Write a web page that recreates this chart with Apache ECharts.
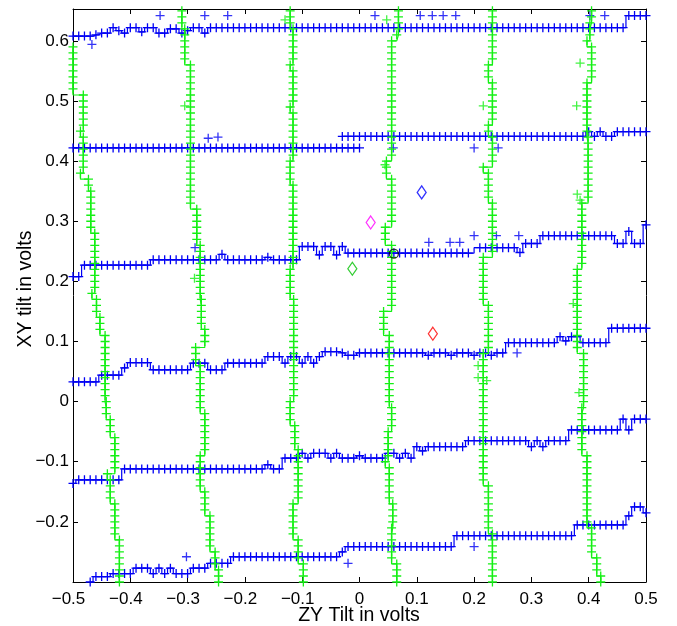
<!DOCTYPE html>
<html>
<head>
<meta charset="utf-8">
<script src="https://cdn.jsdelivr.net/npm/echarts@6/dist/echarts.min.js"></script>
<style>
html,body{margin:0;padding:0;background:#fff;}
#chart{width:677px;height:626px;}
</style>
</head>
<body>
<div id="chart"></div>
<script>
// shared sampling grids
const ROW_X = [-0.50,-0.49,-0.48,-0.47,-0.46,-0.45,-0.44,-0.43,-0.42,-0.41,
-0.40,-0.39,-0.38,-0.37,-0.36,-0.35,-0.34,-0.33,-0.32,-0.31,
-0.30,-0.29,-0.28,-0.27,-0.26,-0.25,-0.24,-0.23,-0.22,-0.21,
-0.20,-0.19,-0.18,-0.17,-0.16,-0.15,-0.14,-0.13,-0.12,-0.11,
-0.10,-0.09,-0.08,-0.07,-0.06,-0.05,-0.04,-0.03,-0.02,-0.01,
0.00,0.01,0.02,0.03,0.04,0.05,0.06,0.07,0.08,0.09,
0.10,0.11,0.12,0.13,0.14,0.15,0.16,0.17,0.18,0.19,
0.20,0.21,0.22,0.23,0.24,0.25,0.26,0.27,0.28,0.29,
0.30,0.31,0.32,0.33,0.34,0.35,0.36,0.37,0.38,0.39,
0.40,0.41,0.42,0.43,0.44,0.45,0.46,0.47,0.48,0.49,
0.50];

const COL_Y = [0.65,0.64,0.63,0.62,0.61,0.60,0.59,0.58,0.57,0.56,
0.55,0.54,0.53,0.52,0.51,0.50,0.49,0.48,0.47,0.46,
0.45,0.44,0.43,0.42,0.41,0.40,0.39,0.38,0.37,0.36,
0.35,0.34,0.33,0.32,0.31,0.30,0.29,0.28,0.27,0.26,
0.25,0.24,0.23,0.22,0.21,0.20,0.19,0.18,0.17,0.16,
0.15,0.14,0.13,0.12,0.11,0.10,0.09,0.08,0.07,0.06,
0.05,0.04,0.03,0.02,0.01,0.00,-0.01,-0.02,-0.03,-0.04,
-0.05,-0.06,-0.07,-0.08,-0.09,-0.10,-0.11,-0.12,-0.13,-0.14,
-0.15,-0.16,-0.17,-0.18,-0.19,-0.20,-0.21,-0.22,-0.23,-0.24,
-0.25,-0.26,-0.27,-0.28,-0.29,-0.30];

// blue rows: XY tilt value at each ROW_X position
const ROW1 = [0.608,0.608,0.608,0.608,0.610,0.613,0.613,0.622,0.617,0.613,
0.622,0.622,0.615,0.622,0.622,0.613,0.613,0.620,0.620,0.613,
0.617,0.622,0.622,0.613,0.622,0.622,0.622,0.622,0.622,0.622,
0.622,0.622,0.622,0.622,0.622,0.622,0.622,0.622,0.622,0.622,
0.622,0.622,0.622,0.622,0.622,0.622,0.622,0.622,0.622,0.622,
0.622,0.622,0.622,0.622,0.622,0.622,0.622,0.622,0.622,0.622,
0.622,0.622,0.622,0.622,0.622,0.622,0.622,0.622,0.622,0.622,
0.622,0.622,0.622,0.622,0.622,0.622,0.622,0.622,0.622,0.622,
0.622,0.622,0.622,0.622,0.622,0.622,0.622,0.622,0.622,0.622,
0.622,0.622,0.622,0.622,0.622,0.622,0.622,0.642,0.642,0.642,
0.642];

const ROW2A = [0.422,0.422,0.422,0.422,0.422,0.422,0.422,0.422,0.422,0.422,
0.422,0.422,0.422,0.422,0.422,0.422,0.422,0.422,0.422,0.422,
0.422,0.422,0.422,0.422,0.422,0.422,0.422,0.422,0.422,0.422,
0.422,0.422,0.422,0.422,0.422,0.422,0.422,0.422,0.422,0.422,
0.422,0.422,0.422,0.422,0.422,0.422,0.422,0.422,0.422,0.422,
0.422,null,null,null,null,null,null,null,null,null,
null,null,null,null,null,null,null,null,null,null,
null,null,null,null,null,null,null,null,null,null,
null,null,null,null,null,null,null,null,null,null,
null,null,null,null,null,null,null,null,null,null,
null];

const ROW2B = [null,null,null,null,null,null,null,null,null,null,
null,null,null,null,null,null,null,null,null,null,
null,null,null,null,null,null,null,null,null,null,
null,null,null,null,null,null,null,null,null,null,
null,null,null,null,null,null,null,0.441,0.441,0.441,
0.441,0.441,0.441,0.441,0.441,0.441,0.441,0.441,0.441,0.441,
0.441,0.441,0.441,0.441,0.441,0.441,0.441,0.441,0.441,0.441,
0.441,0.441,0.441,0.441,0.441,0.441,0.441,0.441,0.441,0.441,
0.441,0.441,0.441,0.441,0.441,0.441,0.441,0.441,0.441,0.441,
0.449,0.441,0.449,0.441,0.441,0.449,0.449,0.449,0.449,0.449,
0.449];

const ROW3 = [0.208,0.208,0.227,0.227,0.227,0.227,0.227,0.227,0.227,0.227,
0.227,0.227,0.227,0.227,0.236,0.236,0.236,0.236,0.236,0.236,
0.236,0.236,0.236,0.236,0.236,0.236,0.245,0.236,0.236,0.236,
0.236,0.236,0.236,0.236,0.240,0.236,0.236,0.236,0.236,0.236,
0.258,0.258,0.258,0.244,0.258,0.258,0.244,0.258,0.247,0.247,
0.247,0.247,0.247,0.247,0.247,0.247,0.247,0.247,0.247,0.247,
0.247,0.247,0.247,0.247,0.247,0.247,0.247,0.247,0.247,0.247,
null,0.256,0.256,0.256,0.256,0.256,0.256,0.256,0.248,0.263,
0.263,0.263,0.276,0.276,0.276,0.276,0.276,0.276,0.276,0.276,
0.276,0.276,0.276,0.276,0.276,0.263,0.263,0.283,0.263,0.263,
0.294];

const ROW4 = [0.033,0.033,0.033,0.033,0.033,0.044,0.044,0.044,0.044,0.056,
0.065,0.065,0.065,0.065,0.053,0.053,0.053,0.053,0.053,0.053,
0.053,0.064,0.064,0.064,0.053,0.053,0.053,0.064,0.064,0.064,
0.064,0.064,0.064,0.064,0.075,0.075,0.075,0.064,0.075,0.075,
0.064,0.075,0.064,0.075,0.083,0.083,0.083,0.081,0.077,0.077,
0.081,0.081,0.081,0.081,0.081,0.081,0.081,0.081,0.081,0.081,
0.081,0.081,0.077,0.081,0.081,0.081,0.077,0.081,0.081,0.081,
0.077,0.081,0.081,0.077,0.081,0.081,0.098,0.098,0.098,0.098,
0.098,0.098,0.098,0.098,0.098,0.108,0.101,0.108,0.108,0.098,
0.098,0.098,0.098,0.098,0.122,0.122,0.122,0.122,0.122,0.122,
0.122];

const ROW5 = [-0.136,-0.130,-0.130,-0.130,-0.130,-0.130,-0.130,-0.130,-0.130,-0.112,
-0.112,-0.112,-0.112,-0.112,-0.112,-0.112,-0.112,-0.112,-0.112,-0.112,
-0.112,-0.112,-0.112,-0.112,-0.112,-0.112,-0.112,-0.112,-0.112,-0.112,
-0.112,-0.112,-0.112,-0.112,-0.105,-0.112,-0.112,-0.094,-0.094,-0.094,
-0.086,-0.094,-0.086,-0.086,-0.086,-0.094,-0.086,-0.094,-0.094,-0.094,
-0.090,-0.094,-0.094,-0.094,-0.094,-0.086,-0.086,-0.094,-0.086,-0.094,
-0.075,-0.082,-0.075,-0.075,-0.075,-0.075,-0.075,-0.075,-0.075,-0.065,
-0.065,-0.065,-0.065,-0.065,-0.065,-0.065,-0.065,-0.065,-0.065,-0.065,
-0.075,-0.065,-0.075,-0.065,-0.065,-0.065,-0.065,-0.047,-0.047,-0.047,
-0.047,-0.047,-0.047,-0.047,-0.047,-0.047,-0.029,-0.047,-0.029,-0.029,
-0.029];

const ROW6 = [null,null,null,-0.300,-0.291,-0.291,-0.291,-0.286,-0.286,-0.286,
-0.286,-0.277,-0.277,-0.277,-0.286,-0.277,-0.286,-0.277,-0.286,-0.286,
-0.286,-0.277,-0.277,-0.277,-0.269,-0.269,-0.269,-0.269,-0.258,-0.258,
-0.258,-0.258,-0.258,-0.258,-0.258,-0.258,-0.258,-0.258,-0.258,-0.258,
-0.258,-0.258,-0.258,-0.258,-0.258,-0.258,-0.258,-0.250,-0.241,-0.241,
-0.241,-0.241,-0.241,-0.241,-0.241,-0.241,-0.241,-0.241,-0.241,-0.241,
-0.241,-0.241,-0.241,-0.241,-0.241,-0.241,-0.241,-0.223,-0.223,-0.223,
-0.223,-0.223,-0.223,-0.223,-0.223,-0.223,-0.223,-0.223,-0.223,-0.223,
-0.223,-0.223,-0.223,-0.223,-0.223,-0.223,-0.223,-0.223,-0.205,-0.205,
-0.205,-0.205,-0.205,-0.205,-0.205,-0.205,-0.205,-0.190,-0.175,-0.175,
-0.185];

// green columns: ZY tilt value at each COL_Y position
const COLA = [null,null,null,null,null,null,-0.500,-0.500,-0.500,-0.500,
-0.500,-0.500,-0.500,-0.500,-0.482,-0.482,-0.482,-0.482,-0.482,-0.482,
-0.487,-0.482,-0.482,-0.482,-0.482,-0.482,-0.482,-0.487,-0.473,-0.473,
-0.469,-0.469,-0.469,-0.469,-0.469,-0.469,-0.469,-0.462,-0.462,-0.462,
-0.462,-0.462,-0.462,-0.462,-0.462,-0.462,-0.462,-0.467,-0.459,-0.459,
-0.459,-0.453,-0.453,-0.453,-0.444,-0.444,-0.444,-0.444,-0.444,-0.444,
-0.444,-0.444,-0.444,-0.444,-0.444,-0.442,-0.442,-0.442,-0.435,-0.435,
-0.435,-0.427,-0.427,-0.427,-0.427,-0.427,-0.427,-0.440,-0.435,-0.435,
-0.435,-0.435,-0.427,-0.427,-0.427,-0.427,-0.427,-0.427,-0.419,-0.419,
-0.419,-0.419,-0.419,-0.419,-0.419,-0.419];

const COLB = [-0.310,-0.310,-0.310,-0.305,-0.305,-0.305,-0.305,-0.305,-0.305,-0.295,
-0.295,-0.295,-0.295,-0.295,-0.295,-0.295,-0.295,-0.295,-0.295,-0.295,
-0.295,-0.295,-0.295,-0.295,-0.295,-0.295,-0.295,-0.295,-0.295,-0.295,
-0.295,-0.295,-0.295,-0.284,-0.284,-0.284,-0.284,-0.284,-0.284,-0.278,
-0.278,-0.278,-0.278,-0.278,-0.278,-0.278,-0.278,-0.278,-0.276,-0.276,
-0.276,-0.276,-0.276,-0.270,-0.270,-0.270,-0.286,-0.286,-0.286,-0.278,
-0.278,-0.278,-0.278,-0.278,-0.278,-0.278,-0.278,-0.270,-0.270,-0.270,
-0.270,-0.270,-0.270,-0.270,-0.278,-0.278,-0.278,-0.278,-0.278,-0.278,
-0.270,-0.270,-0.270,-0.270,-0.261,-0.261,-0.261,-0.261,-0.261,-0.261,
-0.252,-0.252,-0.252,-0.246,-0.246,-0.246];

const COLC = [-0.121,-0.121,-0.121,-0.116,-0.116,-0.116,-0.116,-0.116,-0.116,-0.121,
-0.116,-0.116,-0.116,-0.116,-0.116,-0.116,-0.121,-0.116,-0.116,-0.116,
-0.116,-0.116,-0.116,-0.116,-0.116,-0.121,-0.121,-0.121,-0.121,-0.116,
-0.116,-0.116,-0.116,-0.116,-0.116,-0.116,-0.116,-0.116,-0.116,-0.116,
-0.116,-0.116,-0.116,-0.121,-0.121,-0.121,-0.121,-0.121,-0.115,-0.115,
-0.115,-0.115,-0.115,-0.115,-0.115,-0.115,-0.115,-0.115,-0.115,-0.115,
-0.115,-0.115,-0.115,-0.115,-0.115,-0.121,-0.121,-0.121,-0.121,-0.113,
-0.113,-0.113,-0.113,-0.107,-0.107,-0.107,-0.107,-0.107,-0.107,-0.107,
-0.107,-0.107,-0.116,-0.116,-0.116,-0.116,-0.116,-0.116,-0.107,-0.107,
-0.107,-0.107,-0.098,-0.098,-0.098,-0.098];

const COLD = [0.068,0.068,0.068,0.068,0.065,0.056,0.056,0.056,0.056,0.056,
0.056,0.056,0.056,0.056,0.056,0.056,0.056,0.056,0.056,0.056,
0.056,0.056,0.056,0.056,0.056,0.047,0.047,0.047,0.056,0.056,
0.056,0.056,0.056,0.056,0.056,0.056,0.045,0.045,0.045,0.056,
0.056,0.056,0.056,0.056,0.056,0.056,0.056,0.056,0.056,0.056,
0.042,0.042,0.042,0.042,0.052,0.052,0.052,0.052,0.052,0.052,
0.052,0.052,0.052,0.052,0.052,0.052,0.056,0.056,0.056,0.056,
0.050,0.050,0.050,0.050,0.050,0.045,0.052,0.052,0.052,0.052,
0.052,0.052,0.058,0.058,0.058,0.058,0.056,0.056,0.056,0.056,
0.056,0.056,0.065,0.065,0.065,0.065];

const COLE = [0.232,0.232,0.232,0.232,0.232,0.232,0.232,0.232,0.232,0.225,
0.225,0.225,0.232,0.232,0.232,0.232,0.232,0.232,0.232,0.225,
0.225,0.232,0.232,0.232,0.232,0.232,0.216,0.225,0.225,0.225,
0.225,0.225,0.232,0.232,0.232,0.232,0.232,0.232,0.232,0.232,
0.232,0.216,0.216,0.216,0.216,0.216,0.216,0.216,0.216,0.225,
0.225,0.225,0.225,0.225,0.225,0.225,0.225,0.216,0.216,0.216,
0.216,0.216,0.216,0.216,0.216,0.216,0.216,0.216,0.216,0.216,
0.216,0.216,0.216,0.216,0.216,0.216,0.216,0.216,0.216,0.225,
0.225,0.225,0.225,0.225,0.225,0.225,0.225,0.232,0.232,0.232,
0.232,0.232,0.232,0.232,0.232,0.232];

const COLF = [0.405,0.405,0.402,0.402,0.402,0.397,0.405,0.405,0.405,0.405,
0.405,0.405,0.397,0.397,0.397,0.397,0.397,0.397,0.397,0.397,
0.397,0.399,0.399,0.399,0.399,0.399,0.399,0.399,0.399,0.399,
0.399,0.399,0.388,0.388,0.388,0.388,0.388,0.388,0.388,0.388,
0.388,0.388,0.388,0.380,0.380,0.380,0.380,0.380,0.380,0.380,
0.380,0.380,0.380,0.380,0.380,0.380,0.380,0.391,0.391,0.391,
0.391,0.391,0.391,0.391,0.391,0.391,0.388,0.388,0.388,0.388,
0.388,0.388,0.388,0.388,0.397,0.397,0.397,0.397,0.397,0.397,
0.397,0.397,0.397,0.397,0.397,0.397,0.405,0.405,0.405,0.405,
0.405,0.414,0.414,0.414,0.421,0.421];

// stray readings
const BLUE_STRAY = [[-0.467,0.594],[-0.348,0.642],[-0.270,0.642],[-0.230,0.642],[0.027,0.642],
[0.106,0.642],[0.127,0.642],[0.146,0.642],[0.168,0.642],[0.402,0.642],[0.428,0.642],
[-0.264,0.438],[-0.247,0.440],[0.059,0.422],[0.200,0.422],[0.242,0.422],
[-0.287,0.256],[0.121,0.265],[0.158,0.265],[0.175,0.265],[0.200,0.276],[0.239,0.276],[0.278,0.276],
[0.275,0.081],[-0.302,-0.258],[-0.020,-0.269],[0.200,-0.241]];

const GREEN_STRAY = [[-0.305,0.492],[-0.288,0.205],[-0.130,0.635],[0.0475,0.635],[0.0445,0.394],
[0.216,0.492],[0.207,0.060],[0.207,0.040],[0.222,0.035],[0.385,0.563],[0.379,0.492],
[0.380,0.345],[0.385,0.335],[0.373,0.163],[0.383,0.015]];

const MAGENTA_PT = [[0.0195,0.298]];
const BLUE_PT = [[0.1085,0.348]];
const GREEN_PT = [[-0.0125,0.221]];
const RED_PT = [[0.128,0.113]];
const CIRCLE_PT = [[0.060,0.246]];

const BLUE = '#0000f4';
const GREEN = '#14f014';
const PLUS = 'path://M-1,0L1,0M0,-1L0,1';

function rowSeries(arr) {
  return {
    type: 'line', xAxisIndex: 0, yAxisIndex: 0,
    data: ROW_X.map((x, i) => [x, arr[i]]).filter(p => p[1] !== null),
    symbol: PLUS, symbolSize: 9, clip: false, step: 'middle',
    lineStyle: {color: BLUE, width: 1.2},
    itemStyle: {color: BLUE, borderColor: BLUE, borderWidth: 1.3},
    z: 2, silent: true
  };
}
function colSeries(arr) {
  return {
    type: 'line', xAxisIndex: 0, yAxisIndex: 0,
    data: COL_Y.map((y, i) => [arr[i], y]).filter(p => p[0] !== null),
    symbol: PLUS, symbolSize: 9, clip: false, step: 'start',
    lineStyle: {color: GREEN, width: 1.2},
    itemStyle: {color: GREEN, borderColor: GREEN, borderWidth: 1.3},
    z: 3, silent: true
  };
}
function stray(data, c, z) {
  return {
    type: 'scatter', xAxisIndex: 0, yAxisIndex: 0, data: data,
    symbol: PLUS, symbolSize: 9, clip: false,
    itemStyle: {color: c, borderColor: c, borderWidth: 1.3}, z: z, silent: true
  };
}
function marker(data, sym, size, c) {
  return {
    type: 'scatter', xAxisIndex: 0, yAxisIndex: 0, data: data,
    symbol: sym, symbolSize: size, clip: false,
    itemStyle: {color: 'rgba(0,0,0,0)', borderColor: c, borderWidth: 1.3}, z: 5, silent: true
  };
}

function fmt(v) {
  const r = Math.round(v * 10) / 10;
  if (r === 0) return '0';
  return (r < 0 ? '\u2212' : '') + Math.abs(r).toFixed(1);
}

const FONT = 'Liberation Sans';
const axisCommon = {
  type: 'value',
  axisLine: {show: true, onZero: false, lineStyle: {color: '#000', width: 1}},
  axisTick: {show: true, inside: true, length: 5, lineStyle: {color: '#000', width: 1}},
  splitLine: {show: false}
};

const chart = echarts.init(document.getElementById('chart'), null, {renderer: 'canvas'});
chart.setOption({
  animation: false,
  backgroundColor: '#fff',
  grid: {left: 73, right: 31, top: 9, bottom: 44},
  xAxis: [
    Object.assign({}, axisCommon, {
      position: 'bottom', min: -0.5, max: 0.5, interval: 0.1,
      axisLabel: {
        margin: 9, fontSize: 17, fontFamily: FONT, color: '#000',
        formatter: v => { const s = fmt(v); return s.charAt(0) === '\u2212' ? '{n|' + s + '}' : s; },
        rich: {n: {fontSize: 17, fontFamily: FONT, color: '#000', padding: [0, 9, 0, 0]}}
      }
    }),
    Object.assign({}, axisCommon, {
      position: 'top', min: -0.5, max: 0.5, interval: 0.1, axisLabel: {show: false}
    })
  ],
  yAxis: [
    Object.assign({}, axisCommon, {
      position: 'left', min: -0.3, max: 0.653, interval: 0.1,
      axisLabel: {
        margin: 4, fontSize: 17, fontFamily: FONT, color: '#000',
        formatter: v => (v < -0.25 || v > 0.62) ? '' : fmt(v)
      }
    }),
    Object.assign({}, axisCommon, {
      position: 'right', min: -0.3, max: 0.653, interval: 0.1, axisLabel: {show: false}
    })
  ],
  graphic: [
    {type: 'text', x: 359, y: 616, silent: true,
     style: {text: 'ZY Tilt in volts', fill: '#000', font: '19.5px "Liberation Sans"', textAlign: 'center', textVerticalAlign: 'middle'}},
    {type: 'text', x: 26, y: 289, rotation: Math.PI / 2, silent: true,
     style: {text: 'XY tilt in volts', fill: '#000', font: '19.5px "Liberation Sans"', textAlign: 'center', textVerticalAlign: 'middle'}}
  ],
  series: [
    rowSeries(ROW1), rowSeries(ROW2A), rowSeries(ROW2B), rowSeries(ROW3),
    rowSeries(ROW4), rowSeries(ROW5), rowSeries(ROW6),
    stray(BLUE_STRAY, BLUE, 2),
    colSeries(COLA), colSeries(COLB), colSeries(COLC), colSeries(COLD),
    colSeries(COLE), colSeries(COLF),
    stray(GREEN_STRAY, GREEN, 3),
    marker(MAGENTA_PT, 'diamond', [9, 13], '#ff00ff'),
    marker(BLUE_PT, 'diamond', [9, 13], '#0000ff'),
    marker(GREEN_PT, 'diamond', [9, 13], '#00c000'),
    marker(RED_PT, 'diamond', [9, 13], '#ff0000'),
    marker(CIRCLE_PT, 'circle', 9, '#000')
  ]
});
</script>
</body>
</html>
